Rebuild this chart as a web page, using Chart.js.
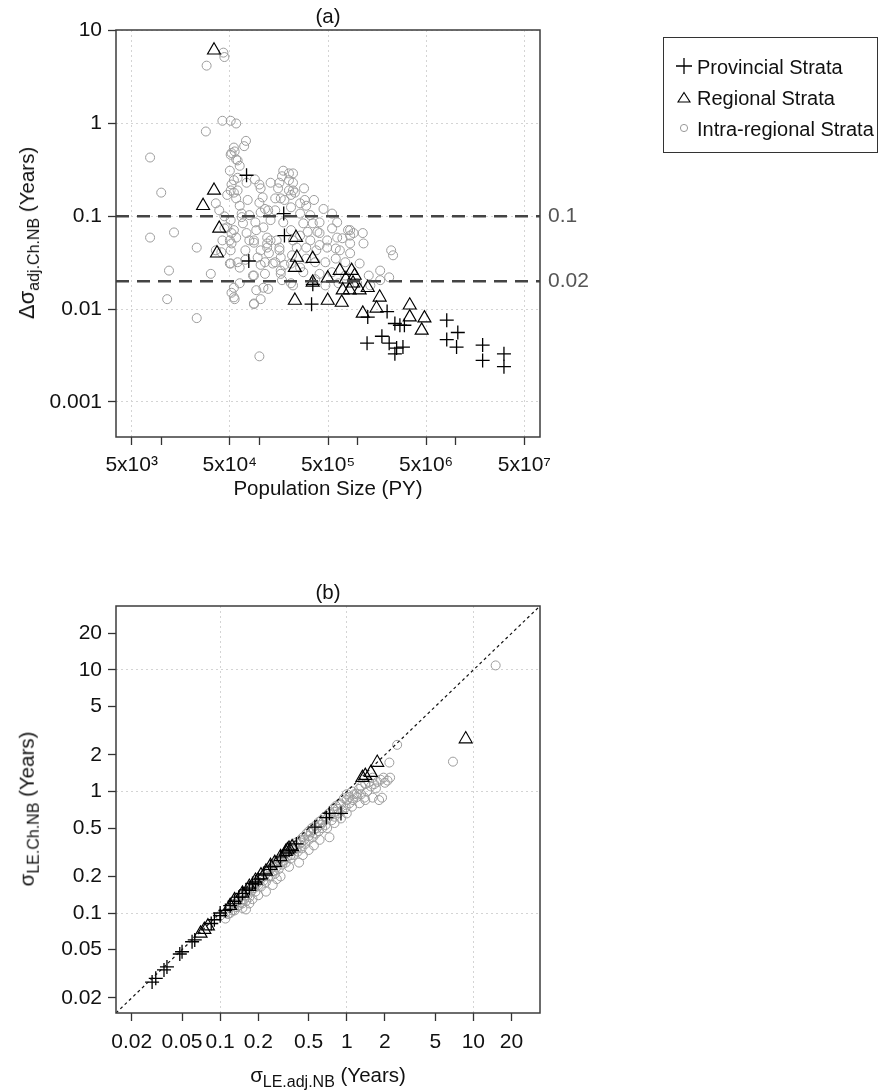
<!DOCTYPE html>
<html><head><meta charset="utf-8">
<script src="https://cdn.jsdelivr.net/npm/chart.js@4.4.0/dist/chart.umd.min.js"></script>
<style>
body{margin:0;background:#fff;font-family:"Liberation Sans",Arial,sans-serif;}
#wrap{position:relative;width:881px;height:1091px;overflow:hidden;background:#fff;}
canvas{position:absolute;left:0;}
.t{position:absolute;font-size:20.5px;color:#111;white-space:nowrap;line-height:1;}
.c{transform:translate(-50%,-50%);}
.r{transform:translate(-50%,-50%) rotate(-90deg);}
.sub{font-size:16px;position:relative;top:5px;}
#legend{position:absolute;left:663px;top:37px;width:215px;height:116px;border:1.3px solid #333;box-sizing:border-box;}
.li{position:absolute;left:0;height:24px;font-size:20px;color:#111;white-space:nowrap;}
.li svg{position:absolute;left:12px;top:4px;}
.li span{position:absolute;left:33px;top:2px;}
</style></head><body>
<div id="wrap">
<canvas id="ca" width="881" height="520" style="top:0px"></canvas>
<canvas id="cb" width="881" height="531" style="top:560px"></canvas>
<div class="t c" style="left:328px;top:16px;">(a)</div>
<div class="t c" style="left:328px;top:488px;">Population Size (PY)</div>
<div class="t r" style="left:27px;top:233px;"><span style="font-size:22px">&Delta;&sigma;</span><span class="sub">adj.Ch.NB</span> (Years)</div>
<div class="t c" style="left:328px;top:592px;">(b)</div>
<div class="t c" style="left:328px;top:1075px;">&sigma;<span class="sub">LE.adj.NB</span> (Years)</div>
<div class="t r" style="left:27px;top:809px;">&sigma;<span class="sub">LE.Ch.NB</span> (Years)</div>
<div id="legend">
 <div class="li" style="top:16px;"><svg width="16" height="16"><path d="M8 0V16M0 8H16" stroke="#000" stroke-width="1.3"/></svg><span>Provincial Strata</span></div>
 <div class="li" style="top:47px;"><svg width="16" height="16"><path d="M8 3.5L14 13L2 13Z" stroke="#000" stroke-width="1.1" fill="none"/></svg><span>Regional Strata</span></div>
 <div class="li" style="top:78px;"><svg width="16" height="16"><circle cx="8" cy="8" r="3.6" stroke="#999" stroke-width="1" fill="none"/></svg><span>Intra-regional Strata</span></div>
</div>
</div>
<script>
// ---------- Panel (a) data ----------
const xA_prov = [7.4e4,1.77e5,1.8e5,7.8e4,3.5e5,3.4e5,1.27e6,1.25e6,1.77e6,2.0e6,2.4e6,2.7e6,3.0e6,2.1e6,2.5e6,2.9e6,2.4e6,8.1e6,1.05e7,8.1e6,1.02e7,1.88e7,1.88e7,3.1e7,3.1e7];
const yA_prov = [0.277,0.107,0.062,0.033,0.0185,0.0113,0.0082,0.0043,0.0051,0.0094,0.0070,0.0067,0.0067,0.0043,0.0038,0.0039,0.0033,0.0076,0.0056,0.0047,0.0039,0.0041,0.0028,0.0033,0.0024];
const xA_reg = [3.45e4,3.45e4,2.67e4,3.9e4,3.7e4,2.36e5,2.41e5,2.3e5,2.3e5,3.49e5,4.97e5,6.58e5,8.7e5,9.35e5,7.06e5,8.3e5,1.05e6,1.27e6,1.68e6,1.13e6,1.56e6,4.97e5,3.49e5,3.4e6,3.4e6,4.5e6,4.8e6,6.9e5,7.6e5,9.0e5];
const yA_reg = [6.15,0.19,0.13,0.074,0.040,0.059,0.036,0.028,0.0124,0.035,0.0215,0.026,0.026,0.023,0.016,0.016,0.016,0.017,0.0134,0.009,0.0102,0.0124,0.0194,0.011,0.0082,0.0059,0.008,0.0118,0.021,0.019];
const xA_intra = [7.7e3,1.0e4,7.7e3,1.35e4,2.9e4,4.3e4,4.4e4,2.85e4,4.2e4,5.1e4,5.8e4,7.3e4,5.5e4,5.1e4,5.6e4,5.8e4,3.6e4,5.2e4,6.0e4,5.5e4,
 6.0e4,7.4e4,1.0e5,1.03e5,1.0e5,1.14e5,9.1e4,6.6e4,5.2e4,5.8e4,7.4e4,8.8e4,1.2e5,1.6e5,2.0e5,1.8e5,2.0e5,2.3e4,1.2e4,1.15e4,
 2.3e4,5.5e4,5.6e4,8.8e4,1.03e5,1.0e5,3.2e4,5.0e4,6.0e4,8.8e4,1.14e5,1.23e5,1.65e5,2.1e5,3.6e4,4.1e4,5.0e4,5.2e4,8.8e4,1.2e5,
 1.5e5,9.6e4,1.14e5,1.6e5,1.37e5,5.2e4,6.0e4,7.0e4,5.5e4,5.1e4,5.8e4,9.0e4,6.6e4,7.9e4,1.03e5,1.23e5,1.65e5,1.7e5,2.2e5,2.2e5,
 2.2e5,2.3e5,2.9e5,3.0e5,4.5e5,2.6e5,2.1e5,2.8e5,3.5e5,4.1e5,4.1e5,5.5e5,6.2e5,8.0e5,9.1e5,8.4e5,4.9e5,3.8e5,3.0e5,2.4e5,
 1.6e5,1.65e5,1.65e5,1.3e5,1.25e5,1.03e5,7.9e4,1.1e5,1.2e5,6.8e4,5.5e4,4.7e4,4.2e4,5.1e4,6.3e4,8.6e4,1.1e5,5.5e4,8.8e4,1.7e5,
 2.2e5,2.8e5,4.1e5,5.5e5,5.2e4,8.4e5,8.4e5,1.13e6,1.15e6,8.4e5,1.05e6,1.7e6,1.7e6,2.1e6,2.2e6,2.3e6,6.6e5,7.5e5,6.0e5,4.7e5,
 3.7e5,3.0e5,3.3e5,2.6e5,2.1e5,1.75e5,2.6e5,3.3e5,3.6e5,2.85e5,2.1e5,1.45e5,1.55e5,1.45e5,1.3e5,9.3e4,7.2e4,7.2e4,1.03e5,1.45e5,
 2.1e5,2.6e5,3.7e5,4.7e5,6.4e5,7.5e5,9.9e5,1.3e6,1.35e6,4.9e5,6.2e5,5.5e5,3.9e5,3.1e5,2.2e5,2.15e5,1.8e5,1.08e5,1.3e5,1.75e5,
 2.0e5,7.6e4,6.3e4,4.4e4,5.1e4,4.4e4,5.1e4,6.3e4,9.3e4,3.9e4,4.7e4,5.0e4,6.3e4,4.1e5,6.0e5,7.0e5];
const yA_intra = [0.43,0.18,0.059,0.067,4.2,5.8,5.2,0.82,1.07,1.07,1.0,0.65,0.55,0.46,0.5,0.41,0.138,0.22,0.26,0.18,
 0.19,0.23,0.22,0.2,0.14,0.12,0.086,0.107,0.066,0.059,0.066,0.052,0.051,0.23,0.29,0.15,0.19,0.046,0.026,0.0128,
 0.0080,0.017,0.0128,0.0113,0.0128,0.0031,0.024,0.031,0.032,0.023,0.024,0.0165,0.024,0.019,0.043,0.041,0.055,0.051,0.055,0.046,
 0.055,0.036,0.032,0.043,0.031,0.48,0.40,0.57,0.245,0.19,0.156,0.25,0.098,0.103,0.11,0.116,0.156,0.27,0.29,0.23,
 0.19,0.18,0.15,0.13,0.12,0.138,0.125,0.084,0.084,0.086,0.066,0.074,0.059,0.071,0.066,0.051,0.046,0.043,0.046,0.046,
 0.046,0.036,0.026,0.055,0.04,0.043,0.055,0.076,0.059,0.084,0.071,0.076,0.055,0.031,0.028,0.023,0.017,0.0134,0.0115,0.0205,
 0.018,0.025,0.024,0.025,0.015,0.071,0.062,0.066,0.051,0.04,0.031,0.026,0.0205,0.022,0.043,0.038,0.043,0.032,0.035,0.032,
 0.032,0.035,0.055,0.062,0.071,0.086,0.107,0.103,0.15,0.2,0.17,0.156,0.2,0.116,0.091,0.071,0.043,0.034,0.03,0.032,
 0.031,0.028,0.021,0.018,0.019,0.023,0.019,0.023,0.018,0.055,0.086,0.107,0.068,0.068,0.055,0.038,0.03,0.16,0.23,0.31,
 0.245,0.15,0.13,0.1,0.091,0.074,0.043,0.019,0.016,0.116,0.17,0.31,0.35,0.049,0.045,0.058];
const refLinesA = [0.1, 0.02];
const refLabelsA = ['0.1', '0.02'];
const xLimA = [3462, 7.22e7];
const yLimA = [4.19e-4, 10.17];
const xTicksA = [5e3,1e4,5e4,1e5,5e5,1e6,5e6,1e7,5e7];
const xTickLabelsA = {5000:'5x10\u00B3',50000:'5x10\u2074',500000:'5x10\u2075',5000000:'5x10\u2076',50000000:'5x10\u2077'};
const xGridA = [5e3,5e4,5e5,5e6,5e7];
const yTicksA = [10,1,0.1,0.01,0.001];
const yTickLabelsA = ['10','1','0.1','0.01','0.001'];

// ---------- Panel (b) data ----------
const xB_prov = [0.029,0.031,0.036,0.038,0.048,0.05,0.06,0.063,0.085,0.09,0.1,0.1,0.11,0.12,0.13,0.14,0.15,0.16,0.17,0.18,0.19,0.2,0.22,0.25,0.3,0.35,0.4,0.56,0.69,0.73,0.9];
const yB_prov = [0.027,0.029,0.034,0.036,0.046,0.048,0.058,0.06,0.082,0.088,0.095,0.1,0.105,0.115,0.125,0.135,0.145,0.155,0.16,0.175,0.18,0.19,0.21,0.24,0.29,0.33,0.37,0.51,0.61,0.66,0.66];
const xB_reg = [0.07,0.075,0.08,0.12,0.13,0.15,0.17,0.19,0.21,0.23,0.25,0.27,0.3,0.33,0.34,0.35,0.37,1.33,1.4,1.55,1.74,8.7];
const yB_reg = [0.068,0.073,0.078,0.115,0.128,0.145,0.165,0.185,0.205,0.22,0.245,0.26,0.29,0.32,0.33,0.34,0.35,1.3,1.35,1.43,1.73,2.7];
const xB_intra = [0.1,0.11,0.115,0.12,0.125,0.13,0.135,0.14,0.145,0.15,0.155,0.16,0.165,0.17,0.175,0.18,0.185,0.19,0.2,0.2,
 0.21,0.22,0.22,0.23,0.24,0.24,0.25,0.26,0.26,0.27,0.28,0.28,0.29,0.3,0.3,0.31,0.32,0.32,0.33,0.34,
 0.35,0.36,0.37,0.38,0.39,0.4,0.4,0.42,0.43,0.44,0.45,0.46,0.48,0.5,0.5,0.52,0.53,0.55,0.56,0.58,
 0.6,0.62,0.63,0.65,0.67,0.7,0.72,0.75,0.78,0.8,0.82,0.85,0.88,0.9,0.95,1.0,1.0,1.05,1.1,1.1,
 1.15,1.2,1.25,1.3,1.38,1.4,1.5,1.6,1.7,1.8,1.9,2.0,2.1,2.2,2.17,2.5,6.9,15,
 0.15,0.17,0.18,0.23,0.16,0.42,0.61,0.73,1.0,1.26,1.6,0.3,0.5,0.35,0.9,0.8,1.4,0.2,0.28,
 0.11,0.12,0.13,0.14,0.15,0.16,0.17,0.19,0.21,0.23,0.25,0.27,0.29,0.31,0.33,0.36,0.38,0.41,0.44,0.47,
 0.5,0.54,0.57,0.6,0.64,0.68,0.7,0.76,0.8,0.86,0.92,0.98,1.05,1.12,1.2,1.3,1.45,1.55,1.65,1.75,
 1.85,1.95,0.26,0.45,0.55];
const yB_intra = [0.095,0.1,0.098,0.11,0.105,0.12,0.112,0.13,0.122,0.14,0.13,0.15,0.14,0.155,0.15,0.165,0.16,0.17,0.18,0.17,
 0.19,0.2,0.185,0.21,0.2,0.22,0.23,0.22,0.24,0.25,0.24,0.26,0.27,0.26,0.28,0.29,0.27,0.3,0.31,0.29,
 0.32,0.3,0.34,0.33,0.36,0.34,0.38,0.37,0.4,0.38,0.42,0.4,0.45,0.43,0.47,0.46,0.5,0.48,0.52,0.5,
 0.56,0.53,0.58,0.56,0.62,0.6,0.66,0.65,0.72,0.68,0.76,0.72,0.8,0.78,0.88,0.85,0.95,0.9,1.0,0.75,
 0.95,0.96,1.05,1.1,0.89,1.15,1.2,1.3,1.06,0.85,0.89,1.18,1.23,1.3,1.73,2.42,1.76,10.9,
 0.11,0.12,0.13,0.15,0.107,0.26,0.4,0.42,0.66,0.8,0.89,0.2,0.33,0.24,0.6,0.55,0.85,0.14,0.19,
 0.09,0.1,0.105,0.115,0.12,0.125,0.135,0.15,0.165,0.18,0.2,0.21,0.23,0.25,0.26,0.28,0.3,0.32,0.34,0.37,
 0.4,0.42,0.45,0.47,0.5,0.53,0.5,0.58,0.62,0.66,0.7,0.74,0.8,0.85,0.9,0.95,1.0,1.1,1.15,1.2,
 1.25,1.3,0.17,0.3,0.36];
const limB = [0.01504, 33.6];
const ticksB = [0.02,0.05,0.1,0.2,0.5,1,2,5,10,20];
const tickLabelsB = ['0.02','0.05','0.1','0.2','0.5','1','2','5','10','20'];
const gridB = [0.1,1,10];

// ---------- helpers ----------
const FONT = '"Liberation Sans", Arial, sans-serif';
const TICKFONT = {size: 21};
const pts = (xs, ys) => xs.map((x, i) => ({x: x, y: ys[i]}));
const near = (a, b) => Math.abs(Math.log10(a) - Math.log10(b)) < 1e-6;
const inList = (v, list) => list.some(g => near(g, v));
const labelFor = (v, vals, labels) => { const i = vals.findIndex(t => near(t, v)); return i < 0 ? '' : labels[i]; };
const boxPlugin = {id: 'box', afterDatasetsDraw(chart) {
  const {ctx, chartArea: a} = chart; ctx.save(); ctx.strokeStyle = '#3c3c3c'; ctx.lineWidth = 1.5;
  ctx.strokeRect(a.left, a.top, a.right - a.left, a.bottom - a.top); ctx.restore(); }};
const gridColor = list => c => (c.tick && inList(c.tick.value, list)) ? '#d4d4d4' : 'rgba(0,0,0,0)';
const crossDs = data => ({data, pointStyle: 'cross', pointRadius: 7, borderColor: '#000', borderWidth: 1.3, backgroundColor: 'rgba(0,0,0,0)'});
const triDs = data => ({data, pointStyle: 'triangle', pointRadius: 7.5, borderColor: '#000', borderWidth: 1.15, backgroundColor: 'rgba(0,0,0,0)'});
const circDs = data => ({data, pointStyle: 'circle', pointRadius: 4.5, borderColor: '#9c9c9c', borderWidth: 1, backgroundColor: 'rgba(0,0,0,0)'});
Chart.defaults.font.family = FONT;

// ---------- Chart (a) ----------
const dsA = [];
refLinesA.forEach(v => dsA.push({data: [{x: xLimA[0], y: v}, {x: xLimA[1], y: v}], showLine: true, pointRadius: 0,
  borderColor: '#444', borderWidth: 2.6, borderDash: [13, 8], fill: false}));
dsA.push(crossDs(pts(xA_prov, yA_prov)));
dsA.push(triDs(pts(xA_reg, yA_reg)));
dsA.push(circDs(pts(xA_intra, yA_intra)));

new Chart(document.getElementById('ca'), {
  type: 'scatter',
  data: {datasets: dsA},
  plugins: [boxPlugin],
  options: {
    responsive: false, animation: false, devicePixelRatio: 1,
    layout: {padding: {left: 0, top: 30, right: 281, bottom: 33}},
    plugins: {legend: {display: false}, tooltip: {enabled: false}},
    scales: {
      x: {type: 'logarithmic', min: xLimA[0], max: xLimA[1], position: 'bottom',
        afterBuildTicks: s => { s.ticks = xTicksA.map(v => ({value: v})); },
        afterFit: s => { s.height = 50; },
        border: {display: false, dash: [2, 3]},
        grid: {color: gridColor(xGridA), lineWidth: 1, tickColor: '#333', tickLength: 8, tickWidth: 1.3},
        ticks: {autoSkip: false, maxRotation: 0, minRotation: 0, padding: 8, color: '#111', font: TICKFONT,
          callback: v => xTickLabelsA[v] || ''}},
      y: {type: 'logarithmic', min: yLimA[0], max: yLimA[1], position: 'left',
        afterBuildTicks: s => { s.ticks = yTicksA.map(v => ({value: v})); },
        afterFit: s => { s.width = 116; },
        border: {display: false, dash: [2, 3]},
        grid: {color: gridColor(yTicksA), lineWidth: 1, tickColor: '#333', tickLength: 8, tickWidth: 1.3},
        ticks: {autoSkip: false, padding: 6, color: '#111', font: TICKFONT,
          callback: v => labelFor(v, yTicksA, yTickLabelsA)}},
      y2: {type: 'logarithmic', min: yLimA[0], max: yLimA[1], position: 'right',
        afterBuildTicks: s => { s.ticks = refLinesA.map(v => ({value: v})); },
        afterFit: s => { s.width = 60; },
        border: {display: false},
        grid: {drawOnChartArea: false, drawTicks: false},
        ticks: {autoSkip: false, padding: 8, color: '#555', font: TICKFONT,
          callback: v => labelFor(v, refLinesA, refLabelsA)}}
    }
  }
});

// ---------- Chart (b) ----------
const dsB = [];
dsB.push({data: [{x: limB[0], y: limB[0]}, {x: limB[1], y: limB[1]}], showLine: true, pointRadius: 0,
  borderColor: '#111', borderWidth: 1.2, borderDash: [3, 3], fill: false});
dsB.push(crossDs(pts(xB_prov, yB_prov)));
dsB.push(triDs(pts(xB_reg, yB_reg)));
dsB.push(circDs(pts(xB_intra, yB_intra)));

new Chart(document.getElementById('cb'), {
  type: 'scatter',
  data: {datasets: dsB},
  plugins: [boxPlugin],
  options: {
    responsive: false, animation: false, devicePixelRatio: 1,
    layout: {padding: {left: 0, top: 46, right: 341, bottom: 28}},
    plugins: {legend: {display: false}, tooltip: {enabled: false}},
    scales: {
      x: {type: 'logarithmic', min: limB[0], max: limB[1], position: 'bottom',
        afterBuildTicks: s => { s.ticks = ticksB.map(v => ({value: v})); },
        afterFit: s => { s.height = 50; },
        border: {display: false, dash: [2, 3]},
        grid: {color: gridColor(gridB), lineWidth: 1, tickColor: '#333', tickLength: 8, tickWidth: 1.3},
        ticks: {autoSkip: false, maxRotation: 0, minRotation: 0, padding: 9, color: '#111', font: TICKFONT,
          callback: v => labelFor(v, ticksB, tickLabelsB)}},
      y: {type: 'logarithmic', min: limB[0], max: limB[1], position: 'left',
        afterBuildTicks: s => { s.ticks = ticksB.map(v => ({value: v})); },
        afterFit: s => { s.width = 116; },
        border: {display: false, dash: [2, 3]},
        grid: {color: gridColor(gridB), lineWidth: 1, tickColor: '#333', tickLength: 8, tickWidth: 1.3},
        ticks: {autoSkip: false, padding: 6, color: '#111', font: TICKFONT,
          callback: v => labelFor(v, ticksB, tickLabelsB)}}
    }
  }
});
</script>
</body></html>
